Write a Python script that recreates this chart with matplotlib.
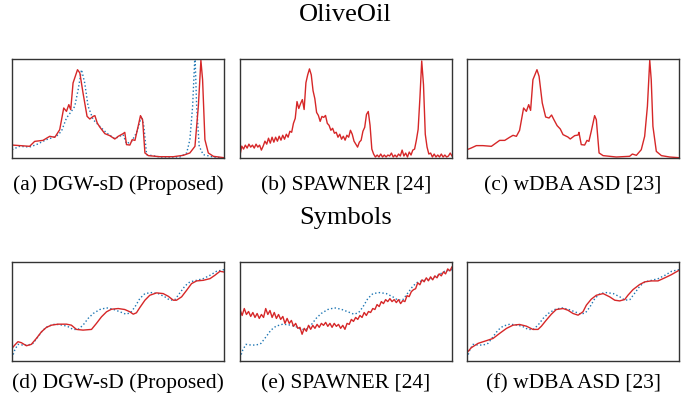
import numpy as np
import matplotlib.pyplot as plt

plt.rcParams['font.family'] = ['Liberation Serif', 'DejaVu Serif']

# ---- OliveOil row (x as fraction of series length, y normalised amplitude) ----
oo_a_red_x = [0.000, 0.083, 0.107, 0.146, 0.178, 0.202, 0.225, 0.244, 0.257, 0.268, 0.277, 0.288,
              0.309, 0.320, 0.335, 0.354, 0.367, 0.383, 0.391, 0.402, 0.414, 0.438, 0.461, 0.485,
              0.501, 0.524, 0.532, 0.540, 0.556, 0.567, 0.580, 0.595, 0.606, 0.616, 0.627, 0.643,
              0.698, 0.761, 0.808, 0.839, 0.863, 0.879, 0.891, 0.899, 0.910, 0.926, 0.950, 1.000]
oo_a_red_y = [0.131, 0.118, 0.168, 0.178, 0.219, 0.209, 0.286, 0.505, 0.471, 0.539, 0.488, 0.758,
              0.892, 0.859, 0.657, 0.421, 0.394, 0.421, 0.428, 0.354, 0.313, 0.246, 0.226, 0.192,
              0.219, 0.246, 0.259, 0.135, 0.131, 0.185, 0.178, 0.320, 0.428, 0.387, 0.051, 0.024,
              0.013, 0.013, 0.027, 0.051, 0.118, 0.522, 0.987, 0.791, 0.185, 0.051, 0.017, 0.003]

oo_a_blue_x = [0.000, 0.036, 0.083, 0.115, 0.162, 0.209, 0.233, 0.257, 0.280, 0.296, 0.312, 0.328,
               0.343, 0.359, 0.383, 0.414, 0.446, 0.485, 0.524, 0.540, 0.564, 0.587, 0.611, 0.622,
               0.635, 0.698, 0.792, 0.824, 0.839, 0.852, 0.863, 0.871, 0.883, 0.902, 0.950, 1.000]
oo_a_blue_y = [0.084, 0.118, 0.111, 0.135, 0.185, 0.219, 0.269, 0.404, 0.471, 0.522, 0.690, 0.892,
               0.758, 0.522, 0.387, 0.320, 0.253, 0.195, 0.236, 0.145, 0.168, 0.253, 0.421, 0.320,
               0.034, 0.010, 0.010, 0.051, 0.185, 0.522, 1.050, 0.522, 0.118, 0.034, 0.010, 0.000]

# SPAWNER output, evenly spaced samples
oo_b_red = [0.03, 0.12, 0.09, 0.13, 0.10, 0.14, 0.11, 0.13, 0.10, 0.14, 0.11, 0.13, 0.08, 0.12, 0.17,
            0.14, 0.20, 0.15, 0.21, 0.16, 0.21, 0.17, 0.22, 0.18, 0.23, 0.19, 0.24, 0.21, 0.27, 0.26,
            0.35, 0.40, 0.57, 0.50, 0.55, 0.59, 0.49, 0.76, 0.84, 0.90, 0.84, 0.68, 0.60, 0.46, 0.43,
            0.37, 0.42, 0.41, 0.43, 0.35, 0.33, 0.28, 0.30, 0.25, 0.26, 0.21, 0.24, 0.19, 0.22, 0.18,
            0.23, 0.21, 0.28, 0.24, 0.17, 0.14, 0.11, 0.16, 0.18, 0.27, 0.31, 0.44, 0.47, 0.33, 0.09,
            0.04, 0.01, 0.03, 0.01, 0.04, 0.01, 0.03, 0.01, 0.03, 0.02, 0.05, 0.01, 0.03, 0.01, 0.04,
            0.02, 0.08, 0.02, 0.05, 0.01, 0.06, 0.03, 0.08, 0.09, 0.18, 0.29, 0.61, 0.98, 0.74, 0.24,
            0.11, 0.04, 0.05, 0.01, 0.04, 0.01, 0.03, 0.01, 0.04, 0.01, 0.03, 0.01, 0.02, 0.05, 0.02]

oo_c_red_x = [0.000, 0.020, 0.044, 0.075, 0.115, 0.154, 0.178, 0.201, 0.217, 0.233, 0.248, 0.267,
              0.280, 0.291, 0.300, 0.311, 0.330, 0.340, 0.355, 0.371, 0.387, 0.399, 0.410, 0.425,
              0.440, 0.453, 0.476, 0.487, 0.508, 0.524, 0.528, 0.539, 0.555, 0.566, 0.575, 0.586,
              0.602, 0.610, 0.623, 0.642, 0.704, 0.767, 0.780, 0.799, 0.822, 0.838, 0.851, 0.862,
              0.869, 0.877, 0.893, 0.917, 0.956, 1.000]
oo_c_red_y = [0.084, 0.101, 0.125, 0.125, 0.118, 0.178, 0.178, 0.209, 0.229, 0.219, 0.279, 0.505,
              0.471, 0.539, 0.481, 0.791, 0.892, 0.825, 0.556, 0.414, 0.404, 0.434, 0.387, 0.327,
              0.293, 0.236, 0.212, 0.192, 0.226, 0.232, 0.259, 0.135, 0.131, 0.178, 0.168, 0.269,
              0.428, 0.387, 0.051, 0.024, 0.010, 0.017, 0.040, 0.027, 0.084, 0.219, 0.522, 0.987,
              0.791, 0.320, 0.067, 0.024, 0.010, 0.003]

# ---- Symbols row ----
sy_blue_x = [0.000, 0.013, 0.028, 0.052, 0.076, 0.099, 0.123, 0.146, 0.170, 0.202, 0.241, 0.265,
             0.288, 0.312, 0.335, 0.359, 0.383, 0.414, 0.446, 0.477, 0.509, 0.537, 0.559, 0.580,
             0.603, 0.627, 0.658, 0.690, 0.721, 0.745, 0.769, 0.792, 0.816, 0.839, 0.871, 0.902,
             0.934, 0.965, 1.000]
sy_blue_y = [0.030, 0.111, 0.168, 0.161, 0.161, 0.178, 0.245, 0.312, 0.352, 0.372, 0.362, 0.346,
             0.319, 0.319, 0.362, 0.430, 0.480, 0.520, 0.537, 0.523, 0.497, 0.473, 0.487, 0.547,
             0.631, 0.681, 0.691, 0.681, 0.648, 0.614, 0.621, 0.688, 0.758, 0.799, 0.815, 0.832,
             0.866, 0.906, 0.923]

sy_d_red_x = [0.000, 0.013, 0.028, 0.044, 0.068, 0.091, 0.115, 0.139, 0.162, 0.186, 0.217, 0.257,
              0.280, 0.304, 0.335, 0.375, 0.398, 0.422, 0.446, 0.469, 0.501, 0.532, 0.556, 0.572,
              0.587, 0.603, 0.627, 0.650, 0.682, 0.713, 0.737, 0.761, 0.776, 0.800, 0.824, 0.847,
              0.871, 0.902, 0.934, 0.957, 0.981, 1.000]
sy_d_red_y = [0.128, 0.161, 0.195, 0.185, 0.154, 0.168, 0.228, 0.295, 0.339, 0.362, 0.372, 0.372,
              0.362, 0.319, 0.312, 0.319, 0.379, 0.446, 0.497, 0.523, 0.530, 0.520, 0.497, 0.473,
              0.487, 0.540, 0.614, 0.664, 0.688, 0.681, 0.654, 0.614, 0.614, 0.648, 0.715, 0.782,
              0.809, 0.815, 0.832, 0.866, 0.906, 0.899]

sy_e_red = [0.52, 0.46, 0.53, 0.47, 0.50, 0.45, 0.49, 0.44, 0.48, 0.43, 0.47, 0.44, 0.53, 0.47,
            0.51, 0.44, 0.49, 0.43, 0.47, 0.42, 0.45, 0.38, 0.43, 0.38, 0.41, 0.35, 0.38, 0.33,
            0.34, 0.27, 0.33, 0.30, 0.36, 0.32, 0.36, 0.33, 0.37, 0.34, 0.38, 0.36, 0.39, 0.35,
            0.38, 0.34, 0.38, 0.35, 0.37, 0.33, 0.36, 0.32, 0.38, 0.37, 0.42, 0.40, 0.44, 0.42,
            0.46, 0.44, 0.49, 0.46, 0.50, 0.49, 0.53, 0.52, 0.57, 0.55, 0.60, 0.58, 0.62, 0.60,
            0.63, 0.60, 0.62, 0.59, 0.62, 0.58, 0.61, 0.60, 0.66, 0.65, 0.70, 0.72, 0.73, 0.79,
            0.77, 0.82, 0.80, 0.84, 0.81, 0.85, 0.82, 0.86, 0.84, 0.88, 0.86, 0.90, 0.88, 0.93,
            0.91, 0.95]

sy_f_red_x = [0.000, 0.020, 0.052, 0.091, 0.123, 0.154, 0.186, 0.217, 0.248, 0.280, 0.311, 0.335,
              0.351, 0.374, 0.398, 0.421, 0.453, 0.476, 0.500, 0.524, 0.547, 0.563, 0.586, 0.610,
              0.642, 0.673, 0.697, 0.720, 0.744, 0.759, 0.783, 0.814, 0.838, 0.869, 0.901, 0.932,
              0.964, 1.000]
sy_f_red_y = [0.084, 0.134, 0.178, 0.205, 0.228, 0.279, 0.329, 0.362, 0.369, 0.352, 0.319, 0.319,
              0.352, 0.413, 0.473, 0.520, 0.530, 0.513, 0.480, 0.463, 0.497, 0.564, 0.624, 0.664,
              0.681, 0.648, 0.614, 0.607, 0.621, 0.664, 0.721, 0.772, 0.799, 0.809, 0.809, 0.839,
              0.872, 0.916]

captions = ['(a) DGW-sD (Proposed)', '(b) SPAWNER [24]', '(c) wDBA ASD [23]',
            '(d) DGW-sD (Proposed)', '(e) SPAWNER [24]', '(f) wDBA ASD [23]']
row_titles = ['OliveOil', 'Symbols']

RED = '#d62728'
BLUE = '#1f77b4'

fig = plt.figure(figsize=(6.97, 4.01), dpi=100)
lefts = [12 / 697, 240 / 697, 467 / 697]
bottoms = [(401 - 158) / 401, (401 - 361) / 401]
cap_y = [1 - 185.5 / 401, 1 - 383.5 / 401]
w, h = 212 / 697, 99 / 401

axes = []
for r in range(2):
    for c in range(3):
        ax = fig.add_axes([lefts[c], bottoms[r], w, h])
        ax.set_xticks([])
        ax.set_yticks([])
        for s in ax.spines.values():
            s.set_color('#333333')
            s.set_linewidth(1.0)
        ax.set_xlim(0, 1)
        ax.set_ylim(0, 1)
        fig.text(lefts[c] + w / 2, cap_y[r], captions[r * 3 + c],
                 ha='center', va='center', fontsize=15.5)
        axes.append(ax)

lw_red = 1.0
lw_blue = 1.0

# OliveOil
axes[0].plot(oo_a_blue_x, oo_a_blue_y, ':', color=BLUE, lw=lw_blue)
axes[0].plot(oo_a_red_x, oo_a_red_y, '-', color=RED, lw=lw_red)
axes[1].plot(np.linspace(0, 1, len(oo_b_red)), oo_b_red, '-', color=RED, lw=lw_red)
axes[2].plot(oo_c_red_x, oo_c_red_y, '-', color=RED, lw=lw_red)

# Symbols
axes[3].plot(sy_blue_x, sy_blue_y, ':', color=BLUE, lw=lw_blue)
axes[3].plot(sy_d_red_x, sy_d_red_y, '-', color=RED, lw=lw_red)
axes[4].plot(sy_blue_x, sy_blue_y, ':', color=BLUE, lw=lw_blue)
axes[4].plot(np.linspace(0, 1, len(sy_e_red)), sy_e_red, '-', color=RED, lw=lw_red)
axes[5].plot(sy_blue_x, sy_blue_y, ':', color=BLUE, lw=lw_blue)
axes[5].plot(sy_f_red_x, sy_f_red_y, '-', color=RED, lw=lw_red)

fig.text(345.5 / 697, 1 - 15 / 401, row_titles[0], ha='center', va='center', fontsize=19)
fig.text(345.5 / 697, 1 - 218 / 401, row_titles[1], ha='center', va='center', fontsize=19)

fig.savefig('out.png', dpi=100)
